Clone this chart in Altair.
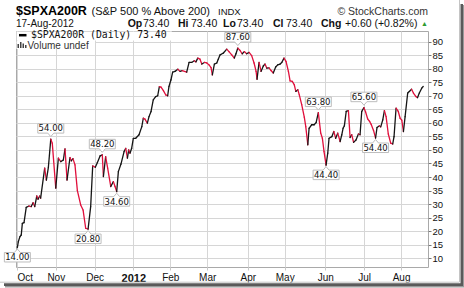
import altair as alt
import numpy as np
import pandas as pd

# trading-session index (0 = 3-Oct-2011) and % of S&P 500 stocks above 200-day MA
days = [0.2, 0.7, 1.6, 2.3, 2.9, 3.8, 5.0, 6.5, 7.7, 8.7, 9.6, 10.7, 11.4, 12.3, 12.8,
        15.0, 15.9, 17.0, 18.3, 19.1, 21.0, 22.4, 23.7, 25.1, 26.0, 27.1, 28.7, 29.4, 30.3,
        31.4, 32.7, 34.5, 35.8, 37.2, 38.5, 39.9, 41.0, 42.4, 43.5, 45.0, 46.2, 46.8, 48.0,
        49.1, 50.8, 52.2, 53.1, 54.0, 54.9, 56.3, 58.0, 58.9, 59.8, 60.5, 61.2, 62.1, 63.0,
        64.3, 66.1, 67.6, 68.4, 69.3, 70.6, 71.5, 72.6, 73.8, 75.1, 76.2, 77.1, 78.0, 79.3,
        80.6, 81.6, 82.3, 83.4, 84.3, 85.6, 87.1, 88.3, 89.5, 91.9, 93.2, 94.6, 96.0, 96.9,
        97.9, 99.1, 100.1, 101.5, 102.8, 104.0, 105.1, 105.8, 106.9, 108.2, 109.0, 110.0,
        111.8, 113.6, 114.8, 116.3, 117.7, 118.6, 119.6, 120.8, 122.0, 123.1, 124.4, 125.7,
        127.1, 128.4, 129.5, 130.0, 131.1, 132.2, 133.4, 134.3, 135.3, 136.5, 137.6, 138.8,
        140.1, 141.2, 142.5, 143.4, 144.6, 145.7, 147.0, 147.9, 149.1, 150.2, 151.0, 152.1,
        152.9, 154.2, 155.6, 156.4, 157.5, 158.2, 159.6, 160.9, 162.0, 163.2, 164.5, 165.4,
        166.3, 167.4, 168.3, 169.0, 170.5, 171.6, 172.6, 173.7, 175.0, 175.9, 176.6, 177.3,
        178.3, 179.5, 180.4, 181.3, 182.3, 183.6, 184.9, 185.8, 186.7, 187.9, 188.8, 189.9,
        191.0, 191.8, 193.1, 194.2, 195.0, 196.3, 197.0, 198.1, 199.0, 199.9, 201.1, 202.4,
        203.5, 204.2, 205.3, 206.5, 207.5, 208.4, 209.3, 210.2, 211.6, 212.5, 213.7, 214.7,
        216.1, 216.9, 217.9, 219.2, 220.0]
values = [14.0, 16.1, 18.0, 18.6, 22.9, 23.2, 28.8, 29.3, 29.1, 30.5, 29.1, 33.0, 31.8, 33.0, 32.2,
          43.3, 38.9, 43.6, 54.0, 52.5, 35.9, 47.0, 45.7, 46.3, 50.4, 38.9, 47.2, 46.0, 46.8,
          44.5, 35.0, 29.7, 27.8, 21.1, 20.8, 29.1, 44.1, 43.6, 45.3, 47.8, 48.2, 40.2, 47.5,
          43.3, 36.5, 38.3, 36.5, 34.6, 42.0, 44.8, 49.4, 50.6, 47.0, 50.0, 48.8, 50.6, 54.3,
          54.3, 55.6, 58.6, 61.7, 61.4, 59.9, 62.3, 64.2, 68.5, 69.7, 70.0, 73.4, 73.2, 71.9,
          70.3, 70.0, 73.4, 75.9, 78.7, 79.0, 79.8, 79.0, 79.3, 78.7, 82.3, 82.3, 82.9, 82.5,
          83.9, 83.5, 81.7, 82.3, 82.1, 81.4, 80.4, 77.7, 81.7, 82.1, 83.5, 85.1,
          85.8, 87.2, 86.3, 85.1, 83.9, 85.5, 87.6, 86.7, 85.5, 86.3, 85.5, 86.0,
          84.8, 82.1, 79.0, 76.1, 82.3, 79.0, 81.0, 81.7, 80.2, 80.3, 79.3, 78.4,
          80.6, 81.4, 81.7, 82.3, 83.9, 82.7, 79.0, 75.5, 75.3, 74.0, 71.6, 72.2,
          70.3, 66.7, 62.1, 58.6, 51.9, 58.0, 59.3, 59.3, 60.1, 63.8, 56.2, 54.3,
          49.4, 44.4, 48.8, 54.3, 54.9, 56.8, 54.3, 56.2, 53.1, 55.6, 58.0, 58.9,
          64.2, 64.5, 54.6, 55.6, 52.8, 53.7, 55.9, 55.6, 64.2, 65.6, 64.0, 61.5,
          60.5, 59.5, 57.2, 54.4, 58.3, 58.9, 58.5, 61.1, 64.5, 62.3, 55.9, 52.5,
          52.2, 54.9, 65.4, 64.2, 61.7, 61.0, 56.8, 62.3, 71.0, 71.6, 72.4, 71.0,
          69.7, 69.3, 71.0, 72.8, 73.4]
assert len(days) == len(values)

month_ticks = [0, 21, 42, 63, 83, 103, 125, 145, 167, 188, 208]
month_names = ["Oct", "Nov", "Dec", "2012", "Feb", "Mar", "Apr", "May", "Jun", "Jul", "Aug"]
y_ticks = list(range(10, 95, 5))

label_days = [0.2, 18.3, 46.2, 38.5, 54.0, 119.6, 163.2, 167.4, 187.9, 194.2]
label_values = [14.0, 54.0, 48.2, 20.8, 34.6, 87.6, 63.8, 44.4, 65.6, 54.4]
label_side = ["below", "above", "above", "below", "below", "above", "above", "below", "above", "below"]

RED = "#e0103c"
BLACK = "#151515"
FONT = "Liberation Sans"

segs = pd.DataFrame({
    "day": days[:-1], "day2": days[1:],
    "value": values[:-1], "value2": values[1:],
})
segs["dir"] = np.where(segs["value2"] < segs["value"], "down", "up")

labels = pd.DataFrame({"day": label_days, "value": label_values, "side": label_side})
labels["text"] = [f"{v:.2f}" for v in label_values]

xs = alt.Scale(domain=[-0.54, 222.6], nice=False, zero=False)
ys = alt.Scale(domain=[6.8, 93.9], nice=False, zero=False)

names_js = "[" + ",".join(f"'{n}'" for n in month_names) + "]"
ticks_js = "[" + ",".join(str(t) for t in month_ticks) + "]"
x_axis = alt.Axis(
    values=month_ticks, title=None, grid=True, gridColor="#d6d6d6", domain=False,
    ticks=True, tickSize=3, tickColor="#c8c8c8", labelPadding=2,
    labelExpr=f"{names_js}[indexof({ticks_js}, datum.value)]",
    labelFont=FONT, labelColor="#111",
    labelFontSize={"condition": {"test": "datum.value == 63", "value": 11}, "value": 10},
    labelFontWeight={"condition": {"test": "datum.value == 63", "value": "bold"}, "value": "normal"},
)
y_axis = alt.Axis(
    values=y_ticks, title=None, orient="right", grid=True, gridColor="#d6d6d6",
    domain=False, ticks=True, tickSize=3, tickColor="#777", labelPadding=1,
    labelFont=FONT, labelFontSize=9.5, labelColor="#111",
)


def X(field="day"):
    return alt.X(f"{field}:Q", scale=xs, axis=x_axis)


def Y(field="value"):
    return alt.Y(f"{field}:Q", scale=ys, axis=y_axis)


one = alt.Data(values=[{"k": 1}])

# legend background (hides grid behind legend text)
legend_bg = alt.layer(
    alt.Chart(one).mark_rect(fill="white").encode(
        x=alt.value(0.5), x2=alt.value(156), y=alt.value(0.5), y2=alt.value(9.5)),
    alt.Chart(one).mark_rect(fill="white").encode(
        x=alt.value(0.5), x2=alt.value(79), y=alt.value(9.5), y2=alt.value(18)),
)

line = alt.Chart(segs).mark_rule(strokeWidth=1.3, strokeCap="round").encode(
    x=X(), x2="day2:Q", y=Y(), y2="value2:Q",
    color=alt.Color("dir:N", scale=alt.Scale(domain=["up", "down"], range=[BLACK, RED]), legend=None),
)

above_shape = "M-13,-15.5L13,-15.5L13,-6L3,-6L0,-2.5L-3,-6L-13,-6Z"
below_shape = "M-13,14.5L13,14.5L13,5L3,5L0,1.5L-3,5L-13,5Z"

box_above = alt.Chart(labels).transform_filter("datum.side == 'above'").mark_point(
    shape=above_shape, size=4, filled=True, fill="white", stroke="#bdbdbd",
    strokeWidth=1, opacity=1).encode(x=X(), y=Y())
box_below = alt.Chart(labels).transform_filter("datum.side == 'below'").mark_point(
    shape=below_shape, size=4, filled=True, fill="white", stroke="#bdbdbd",
    strokeWidth=1, opacity=1).encode(x=X(), y=Y())
txt_above = alt.Chart(labels).transform_filter("datum.side == 'above'").mark_text(
    font="DejaVu Sans", fontSize=8.5, dy=-10.7, color="#111", baseline="middle").encode(
    x=X(), y=Y(), text="text:N")
txt_below = alt.Chart(labels).transform_filter("datum.side == 'below'").mark_text(
    font="DejaVu Sans", fontSize=8.5, dy=9.9, color="#111", baseline="middle").encode(
    x=X(), y=Y(), text="text:N")


def ptext(s, x, y, size=10.5, weight="normal", align="left", color="#111", font=FONT):
    return alt.Chart(one).mark_text(
        text=s, font=font, fontSize=size, fontWeight=weight, align=align,
        baseline="alphabetic", color=color).encode(x=alt.value(x), y=alt.value(y))


# header (coordinates relative to plot origin at pixel 16,31)
header = alt.layer(
    ptext("$SPXA200R", 0, -16.3, size=12.5, weight="bold", color="#000"),
    ptext("(S&P 500 % Above 200)", 75.5, -16, size=11),
    ptext("INDX", 202, -16, size=9.5),
    ptext("© StockCharts.com", 412, -16, size=10.5, align="right", color="#333"),
    ptext("17-Aug-2012", 0, -3.6, size=10),
    ptext("Op", 111.7, -3.6, weight="bold"),
    ptext("73.40", 127, -3.6),
    ptext("Hi", 162, -3.6, weight="bold"),
    ptext("73.40", 175, -3.6),
    ptext("Lo", 207, -3.6, weight="bold"),
    ptext("73.40", 221, -3.6),
    ptext("Cl", 257, -3.6, weight="bold"),
    ptext("73.40", 270, -3.6),
    ptext("Chg", 305, -3.6, weight="bold"),
    ptext("+0.60 (+0.82%)", 329, -3.6),
    ptext("▲", 405, -4.6, size=7, color="#2f9a2f"),
)

legend = alt.layer(
    alt.Chart(one).mark_rule(color="#000", strokeWidth=2.5).encode(
        x=alt.value(3), x2=alt.value(10.5), y=alt.value(4.2), y2=alt.value(4.2)),
    ptext("$SPXA200R (Daily) 73.40", 15, 7.3, size=9.8, font="DejaVu Sans Mono", color="#111"),
    alt.Chart(one).mark_rect(fill="#444").encode(
        x=alt.value(1.5), x2=alt.value(3), y=alt.value(13), y2=alt.value(17)),
    alt.Chart(one).mark_rect(fill="#444").encode(
        x=alt.value(4), x2=alt.value(5.5), y=alt.value(11), y2=alt.value(17)),
    alt.Chart(one).mark_rect(fill="#444").encode(
        x=alt.value(6.5), x2=alt.value(8), y=alt.value(12.5), y2=alt.value(17)),
    alt.Chart(one).mark_rect(fill="#444").encode(
        x=alt.value(9), x2=alt.value(10.5), y=alt.value(14), y2=alt.value(17)),
    ptext("Volume undef", 11.5, 17.5, size=10, color="#333"),
)

# outer frame + drop shadow (pixel 0..464 -> plot -16..448, 0..288 -> -31..257)
frame = alt.layer(
    alt.Chart(one).mark_rule(color="#c4c4c4", strokeWidth=1).encode(
        x=alt.value(443.5), x2=alt.value(443.5), y=alt.value(-31), y2=alt.value(251)),
    alt.Chart(one).mark_rule(color="#c4c4c4", strokeWidth=1).encode(
        x=alt.value(-16), x2=alt.value(443.5), y=alt.value(251.2), y2=alt.value(251.2)),
    alt.Chart(one).mark_rect(fill="#5a5a5a").encode(
        x=alt.value(444.5), x2=alt.value(447), y=alt.value(-27), y2=alt.value(255)),
    alt.Chart(one).mark_rect(fill="#5a5a5a").encode(
        x=alt.value(-12), x2=alt.value(447), y=alt.value(252.3), y2=alt.value(255)),
    alt.Chart(one).mark_rect(fill="#9a9a9a").encode(
        x=alt.value(447), x2=alt.value(448), y=alt.value(-26), y2=alt.value(256)),
    alt.Chart(one).mark_rect(fill="#9a9a9a").encode(
        x=alt.value(-11), x2=alt.value(448), y=alt.value(255), y2=alt.value(256.5)),
)

chart = alt.layer(
    line, legend_bg, box_above, box_below, txt_above, txt_below, header, legend, frame
).properties(
    width=412, height=236,
    autosize=alt.AutoSizeParams(type="none"),
    padding={"left": 16, "top": 31, "right": 36, "bottom": 21},
    background="white",
).configure_view(stroke="#a9a9a9", strokeWidth=1)

chart.save("out.html", embed_options={"renderer": "svg", "actions": False})
